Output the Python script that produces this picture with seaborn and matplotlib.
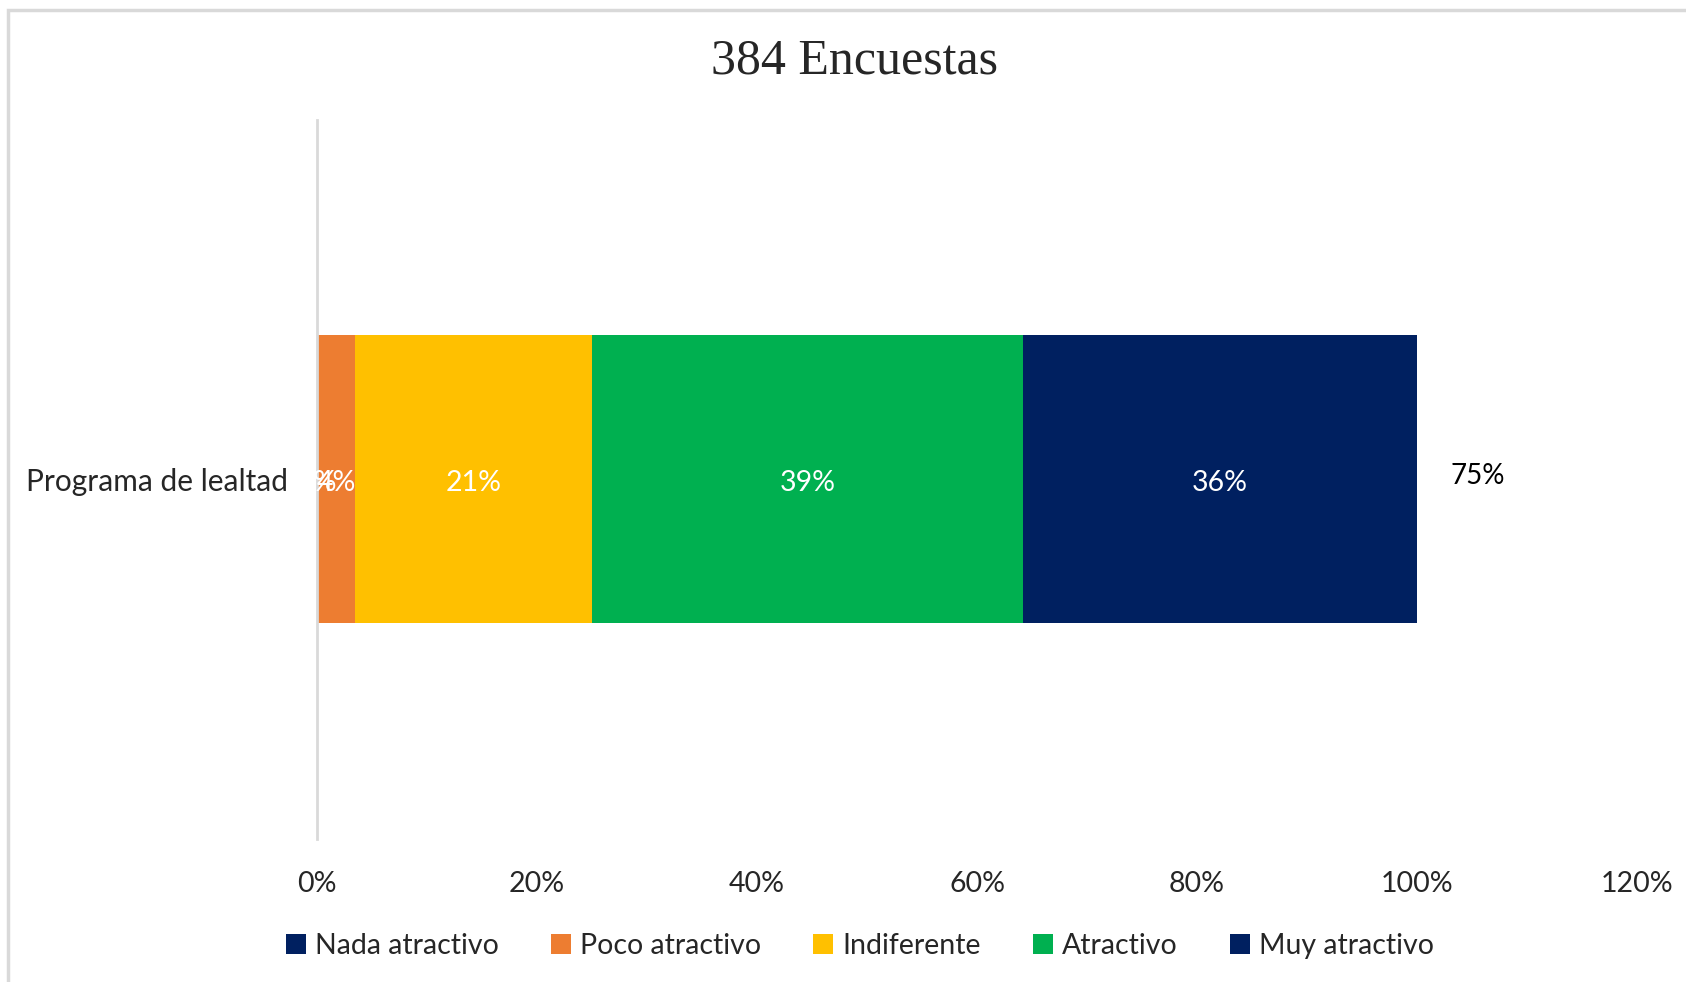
import matplotlib
matplotlib.use("Agg")
import matplotlib.pyplot as plt
import seaborn as sns
import pandas as pd
from matplotlib.patches import Rectangle, Patch

categories = ["Programa de lealtad"]
series = ["Nada atractivo", "Poco atractivo", "Indiferente", "Atractivo", "Muy atractivo"]
values = [0.0, 3.5, 21.5, 39.2, 35.8]
labels = ["0%", "4%", "21%", "39%", "36%"]
colors = ["#002060", "#ED7D31", "#FFC000", "#00B050", "#002060"]
extra_label = "75%"
extra_pos = 105.5
xticks = [0, 20, 40, 60, 80, 100, 120]
title = "384 Encuestas"

sns.set_theme(style="white")
plt.rcParams['font.family'] = ['Lato', 'DejaVu Sans']

fig = plt.figure(figsize=(16.86, 9.82), dpi=100)
ax = fig.add_axes([0.188, 0.146, 0.783, 0.732])

left = 0.0
for s, v, lab, c in zip(series, values, labels, colors):
    df = pd.DataFrame({"cat": categories, "val": [v]})
    sns.barplot(data=df, x="val", y="cat", orient="h", color=c, width=0.4,
                left=left, ax=ax, saturation=1, linewidth=0)
    ax.text(left + v / 2, 0.005, lab, ha="center", va="center", color="white", fontsize=20.5)
    left += v

ax.text(extra_pos, -0.005, extra_label, ha="center", va="center", color="black", fontsize=20)

ax.set_xlim(0, 120)
ax.set_ylim(0.5, -0.5)
ax.set_xticks(xticks)
ax.set_xticklabels([f"{t}%" for t in xticks], fontsize=20.5)
ax.tick_params(axis="y", labelsize=21.5, length=0, pad=21)
ax.tick_params(axis="x", length=0, pad=23)
ax.set_xlabel("")
ax.set_ylabel("")
for side in ["top", "right", "bottom"]:
    ax.spines[side].set_visible(False)
ax.spines["left"].set_color("#D9D9D9")
ax.spines["left"].set_linewidth(2)

fig.suptitle(title, x=0.507, y=0.938, fontsize=36, family="Liberation Serif", va="center")

handles = [Patch(facecolor=c, edgecolor="none") for c in colors]
fig.legend(handles, series, loc="center", bbox_to_anchor=(0.51, 0.037), ncol=5,
           frameon=False, fontsize=20.5, handlelength=0.7, handleheight=0.7,
           handletextpad=0.3, columnspacing=1.85)

fig.patches.append(Rectangle((0.0047, -0.1), 1.2, 1.09, transform=fig.transFigure,
                             fill=False, edgecolor="#D9D9D9", linewidth=2.5))

fig.savefig("out.png", dpi=100)
